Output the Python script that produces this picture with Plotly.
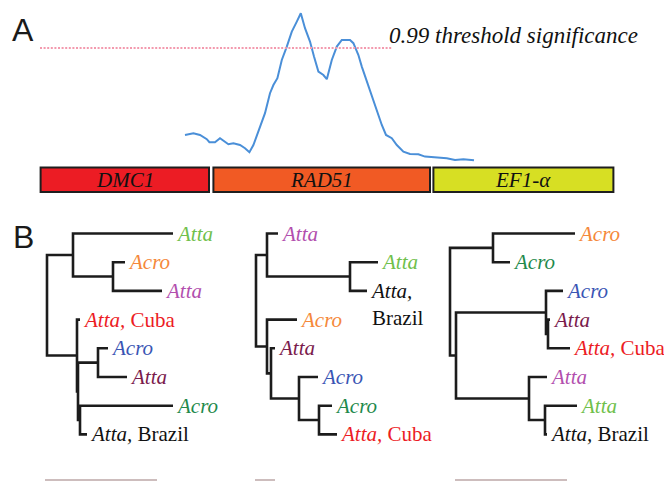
import plotly.graph_objects as go

W, H = 664, 482

# ---------------- Panel A data ----------------
site = [725, 767, 800, 834, 847, 875, 900, 925, 942, 967, 1000, 1025, 1047, 1067,
        1092, 1125, 1150, 1167, 1187, 1209, 1234, 1259, 1284, 1304, 1325, 1350,
        1370, 1392, 1417, 1434, 1459, 1484, 1509, 1550, 1567, 1592, 1609, 1634,
        1659, 1684, 1709, 1730, 1759, 1784, 1817, 1850, 1892, 1925, 1984, 2034,
        2075, 2117, 2170]
score = [3.75, 3.84, 3.75, 3.54, 3.39, 3.39, 3.59, 3.39, 3.29, 3.34, 3.25, 3.09,
         2.89, 3.25, 3.92, 4.84, 5.84, 6.25, 6.59, 7.50, 8.17, 8.92, 9.42, 9.84,
         9.09, 8.42, 7.67, 6.92, 6.75, 6.54, 7.50, 8.17, 8.50, 8.50, 8.34, 7.75,
         7.17, 6.42, 5.75, 5.00, 4.25, 3.75, 3.59, 3.25, 2.92, 2.80, 2.79, 2.67,
         2.64, 2.59, 2.50, 2.54, 2.49]
threshold = 8.1
threshold_span = [0, 1760]
threshold_label = "0.99 threshold significance"

genes = ["DMC1", "RAD51", "EF1-α"]
gene_start = [3, 867, 1967]
gene_end = [845, 1950, 2867]
gene_colors = ["#ec1c24", "#f15a24", "#d7df23"]

# ---------------- Panel B data ----------------
taxon_labels = {
    "atta_lg": "<i>Atta</i>",
    "acro_or": "<i>Acro</i>",
    "atta_mg": "<i>Atta</i>",
    "atta_cuba": "<i>Atta,</i> Cuba",
    "acro_bl": "<i>Acro</i>",
    "atta_mr": "<i>Atta</i>",
    "acro_dg": "<i>Acro</i>",
    "atta_brazil": "<i>Atta,</i> Brazil",
}
taxon_colors = {
    "atta_lg": "#6fc04b",
    "acro_or": "#f5883a",
    "atta_mg": "#b24fae",
    "atta_cuba": "#ec1c24",
    "acro_bl": "#3a55b4",
    "atta_mr": "#7a1b4c",
    "acro_dg": "#1f8a4c",
    "atta_brazil": "#111111",
}

# trees: (branch_length, leaf_key) or (branch_length, [child, child])
tree1 = (0, [(26, [(100, "atta_lg"), (40, [(12, "acro_or"), (49, "atta_mg")])]),
             (30, [(3, "atta_cuba"),
                   (1, [(20, [(10, "acro_bl"), (29, "atta_mr")]),
                        (2, [(93, "acro_dg"), (7, "atta_brazil")])])])])
tree2 = (0, [(11, [(11, "atta_mg"), (83, [(28, "atta_lg"), (17, "atta_brazil")])]),
             (11, [(30, "acro_or"),
                   (4, [(4, "atta_mr"),
                        (28, [(19, "acro_bl"),
                              (20, [(13, "acro_dg"), (18, "atta_cuba")])])])])])
tree3 = (0, [(43, [(82, "acro_or"), (17, "acro_dg")]),
             (6, [(90, [(17, "acro_bl"), (2, [(2, "atta_mr"), (22, "atta_cuba")])]),
                  (73, [(18, "atta_mg"), (16, [(32, "atta_lg"), (2, "atta_brazil")])])])])
trees = [tree1, tree2, tree3]
scale_bar_len = [112, 20, 112]

SERIF = "Liberation Serif, Times New Roman, serif"
SANS = "Liberation Sans, Arial, sans-serif"


def layout_tree(node, depth, leaves, paths):
    bl, content = node
    x = depth + bl
    if isinstance(content, str):
        y = len(leaves)
        leaves.append((content, x, y))
        return x, y
    kids = [layout_tree(c, x, leaves, paths) for c in content]
    (x1, y1), (x2, y2) = kids[0], kids[-1]
    paths.append([(x1, y1), (x, y1), (x, y2), (x2, y2)])
    return x, (y1 + y2) / 2


fig = go.Figure()

# panel A curve + threshold
fig.add_trace(go.Scatter(x=site, y=score, mode="lines",
                         line=dict(color="#4a8fd8", width=2), xaxis="x", yaxis="y"))
fig.add_trace(go.Scatter(x=threshold_span, y=[threshold, threshold], mode="lines",
                         line=dict(color="#f39aae", width=2.2, dash="2px,1.6px"),
                         xaxis="x", yaxis="y"))
# gene bars
fig.add_trace(go.Bar(orientation="h", y=[0, 0, 0],
                     x=[e - s for s, e in zip(gene_start, gene_end)], base=gene_start,
                     width=1, marker=dict(color=gene_colors, line=dict(color="#1e1e1e", width=2)),
                     xaxis="x", yaxis="y2", hoverinfo="skip"))

annotations = []
for g, s, e in zip(genes, gene_start, gene_end):
    annotations.append(dict(x=(s + e) / 2, y=0, xref="x", yref="y2", text=f"<i>{g}</i>",
                            xanchor="center", yanchor="middle",
                            showarrow=False, font=dict(family=SERIF, size=21, color="#111")))
annotations.append(dict(x=1735, y=8.75, xref="x", yref="y", xanchor="left", yanchor="middle",
                        text=f"<i>{threshold_label}</i>", showarrow=False,
                        font=dict(family=SERIF, size=23, color="#111")))
annotations.append(dict(x=23 / W, y=1 - 30 / H, xref="paper", yref="paper", text="A",
                        xanchor="center", yanchor="middle",
                        showarrow=False, font=dict(family=SANS, size=32, color="#1a1a1a")))
annotations.append(dict(x=23 / W, y=1 - 237 / H, xref="paper", yref="paper", text="B",
                        xanchor="center", yanchor="middle",
                        showarrow=False, font=dict(family=SANS, size=32, color="#1a1a1a")))

tree_roots_px = [47, 256, 450]
tree_widths = [185, 185, 200]
scale_offsets = [-2, -1, 5]
shapes = []
layout_axes = {}
for k, tree in enumerate(trees):
    xa = f"x{k + 2}"
    ya = f"y{k + 3}"
    leaves, paths = [], []
    layout_tree(tree, 0, leaves, paths)
    xs, ys = [], []
    for p in paths:
        for (px, py) in p:
            xs.append(px)
            ys.append(py)
        xs.append(None)
        ys.append(None)
    fig.add_trace(go.Scatter(x=xs, y=ys, mode="lines", line=dict(color="#1c1c1c", width=2.6),
                             xaxis=xa, yaxis=ya, hoverinfo="skip"))
    for key, lx, ly in leaves:
        txt = taxon_labels[key]
        yshift = 0
        if k == 1 and key == "atta_brazil":
            txt = txt.replace("</i> ", "</i><br>")
            yshift = -13.5
        annotations.append(dict(x=lx, y=ly, xref=xa, yref=ya, text=txt, xanchor="left",
                                yanchor="middle", align="left", xshift=2, yshift=yshift,
                                borderpad=0, showarrow=False,
                                font=dict(family=SERIF, size=21, color=taxon_colors[key])))
    r = tree_roots_px[k]
    w = tree_widths[k]
    layout_axes[f"xaxis{k + 2}"] = dict(domain=[(r - 5) / W, (r - 5 + w) / W], range=[-5, w - 5],
                                       visible=False, anchor=ya)
    layout_axes[f"yaxis{k + 3}"] = dict(domain=[1 - 463.1 / H, 1 - 216.3 / H],
                                       range=[8.0, -0.6], visible=False, anchor=xa)
    s0 = scale_offsets[k]
    shapes.append(dict(type="line", xref=xa, yref="paper", x0=s0, x1=s0 + scale_bar_len[k],
                       y0=1 - 480 / H, y1=1 - 480 / H, line=dict(color="#cdbdbd", width=2)))

fig.update_layout(
    width=W, height=H, margin=dict(l=0, r=0, t=0, b=0),
    paper_bgcolor="white", plot_bgcolor="rgba(0,0,0,0)", showlegend=False,
    xaxis=dict(domain=[0, 1], range=[-200, 3120], visible=False, anchor="y"),
    yaxis=dict(domain=[1 - 210 / H, 1], range=[0, 10.5], visible=False, anchor="x"),
    yaxis2=dict(domain=[1 - 193.5 / H, 1 - 166 / H], range=[-0.56, 0.56], visible=False,
                anchor="x"),
    annotations=annotations, shapes=shapes,
    **layout_axes,
)

fig.write_html("out.html", config={"displayModeBar": False},
               post_script="document.body.style.margin='0';")
